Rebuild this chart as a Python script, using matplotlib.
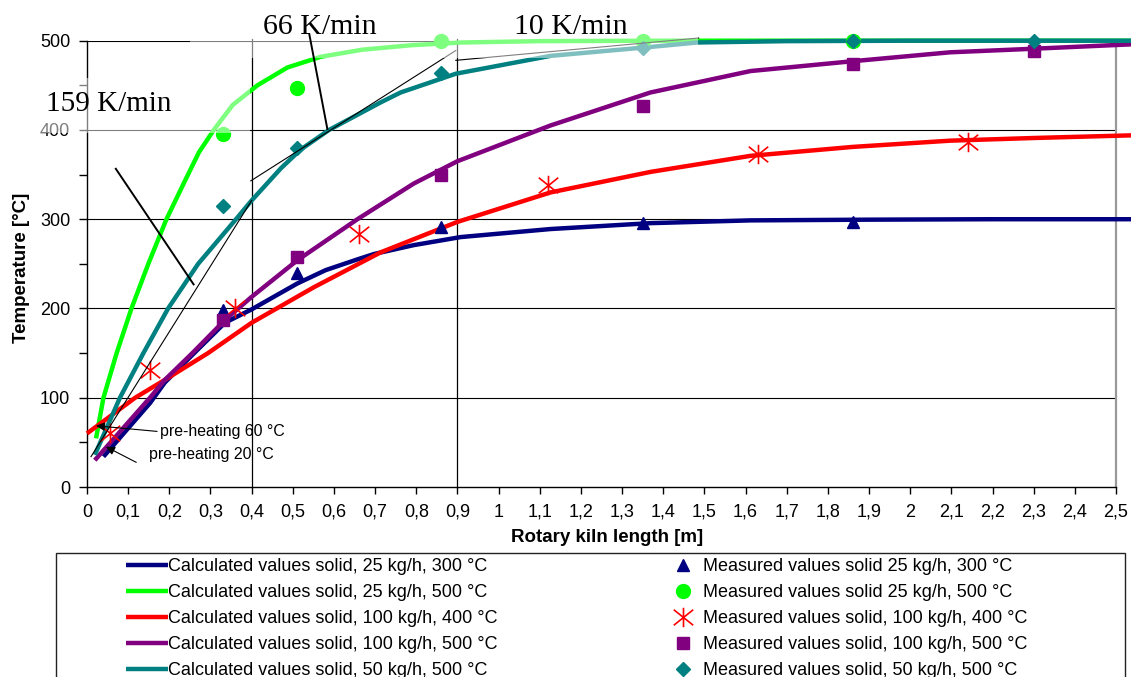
import matplotlib
matplotlib.use('Agg')
import matplotlib.pyplot as plt
from matplotlib.ticker import MultipleLocator, FuncFormatter
from matplotlib.patches import Rectangle
from matplotlib.path import Path

plt.rcParams['font.family'] = ['Liberation Sans', 'DejaVu Sans']

# calculated curves
calc_300_25_x = [0.04, 0.153, 0.189, 0.256, 0.335, 0.4, 0.511, 0.58, 0.657, 0.697, 0.794, 0.908,
                 1.126, 1.369, 1.612, 1.9, 2.2, 2.54]
calc_300_25_T = [34, 94, 117, 148, 184, 199, 228, 243, 255, 261, 271, 280, 289, 295.6, 298.7,
                 299.5, 300, 300]

calc_500_25_x = [0.022, 0.040, 0.072, 0.108, 0.149, 0.193, 0.238, 0.272, 0.308, 0.354, 0.414, 0.487,
                 0.568, 0.67, 0.79, 0.91, 1.1, 1.4, 1.8, 2.54]
calc_500_25_T = [54.5, 100, 150, 200, 250, 300, 343, 375, 400, 428, 450, 470, 482, 490, 495, 498,
                 499.5, 500, 500, 500]

calc_400_100_x = [0.0, 0.117, 0.189, 0.294, 0.4, 0.552, 0.714, 0.9, 1.126, 1.369, 1.612, 1.86,
                  2.097, 2.3, 2.54]
calc_400_100_T = [60, 100, 120, 150, 184, 224, 263, 297, 330, 353, 371, 381, 388, 391, 394]

calc_500_100_x = [0.019, 0.153, 0.189, 0.256, 0.335, 0.40, 0.511, 0.657, 0.794, 0.9, 1.126, 1.369,
                  1.612, 1.86, 2.097, 2.3, 2.54]
calc_500_100_T = [30, 100, 120, 150, 187, 213, 254, 300, 340, 365, 405, 442, 466, 477, 487, 491, 496]

calc_500_50_x = [0.019, 0.080, 0.137, 0.197, 0.270, 0.362, 0.40, 0.471, 0.519, 0.588, 0.714, 0.762,
                 0.896, 1.126, 1.369, 1.483, 1.7, 2.0, 2.54]
calc_500_50_T = [36, 100, 150, 200, 250, 300, 321, 357, 378, 400, 431, 442, 463, 483, 493, 498,
                 499.5, 500, 500]

# measured points
meas_300_25_x = [0.33, 0.51, 0.86, 1.35, 1.86]
meas_300_25_T = [198, 240, 291, 296, 297]
meas_500_25_x = [0.33, 0.51, 0.86, 1.35, 1.86]
meas_500_25_T = [396, 447, 500, 500, 500]
meas_400_100_x = [0.056, 0.153, 0.359, 0.66, 1.12, 1.63, 2.14]
meas_400_100_T = [60, 131, 200, 284, 338, 373, 387]
meas_500_100_x = [0.33, 0.51, 0.86, 1.35, 1.86, 2.3]
meas_500_100_T = [187, 258, 350, 427, 474, 488]
meas_500_50_x = [0.33, 0.51, 0.86, 1.35, 1.86, 2.3]
meas_500_50_T = [315, 380, 464, 492, 500, 500]

calc_labels = ['Calculated values solid, 25 kg/h, 300 °C',
               'Calculated values solid, 25 kg/h, 500 °C',
               'Calculated values solid, 100 kg/h, 400 °C',
               'Calculated values solid, 100 kg/h, 500 °C',
               'Calculated values solid, 50 kg/h, 500 °C']
meas_labels = ['Measured values solid 25 kg/h, 300 °C',
               'Measured values solid 25 kg/h, 500 °C',
               'Measured values solid, 100 kg/h, 400 °C',
               'Measured values solid, 100 kg/h, 500 °C',
               'Measured values solid, 50 kg/h, 500 °C']
colors = ['#000080', '#00FF00', '#FF0000', '#800080', '#008080']

# heating-rate annotations: tangents and pointer lines (x [m], T [°C])
tangent_159 = ([0.0097, 0.4], [34, 321])
tangent_66 = ([0.398, 0.896], [343, 489])
tangent_10 = ([0.896, 1.486], [478, 503])
pointer_159 = ([0.070, 0.259], [356.5, 227])
pointer_66 = ([0.540, 0.584], [507.5, 401])
section_x = [0.4, 0.9]

W, H = 1131, 677
fig = plt.figure(figsize=(W / 100, H / 100), dpi=100)
ax = fig.add_axes([87 / W, 1 - 487 / H, (1116 - 87) / W, (487 - 40.7) / H])
ax.set_xlim(0, 2.5)
ax.set_ylim(0, 500)

for yv in range(100, 501, 100):
    ax.axhline(yv, color='k', lw=0.8, zorder=1)
for xv in section_x:
    ax.plot([xv, xv], [0, 502], color='k', lw=0.9, zorder=1, clip_on=False)

star = Path([(-1, -0.8), (1, 0.8), (-1, 0.8), (1, -0.8), (0, -1), (0, 1)],
            [Path.MOVETO, Path.LINETO, Path.MOVETO, Path.LINETO, Path.MOVETO, Path.LINETO])

calc = [(calc_300_25_x, calc_300_25_T), (calc_500_25_x, calc_500_25_T),
        (calc_400_100_x, calc_400_100_T), (calc_500_100_x, calc_500_100_T),
        (calc_500_50_x, calc_500_50_T)]
meas = [(meas_300_25_x, meas_300_25_T, '^', 9), (meas_500_25_x, meas_500_25_T, 'o', 10),
        (meas_400_100_x, meas_400_100_T, star, 14), (meas_500_100_x, meas_500_100_T, 's', 8),
        (meas_500_50_x, meas_500_50_T, 'D', 7.5)]

calc_handles = []
for (xs, ts), c, lab in zip(calc, colors, calc_labels):
    ln, = ax.plot(xs, ts, color=c, lw=3.2, label=lab, zorder=3, clip_on=False,
                  solid_capstyle='butt', solid_joinstyle='round')
    calc_handles.append(ln)

meas_handles = []
for (xs, ts, m, ms), c, lab in zip(meas, colors, meas_labels):
    if m is star:
        mk, = ax.plot(xs, ts, ls='none', marker=m, ms=ms, mec=c, mfc='none', mew=1.2,
                      label=lab, zorder=4, clip_on=False)
    else:
        mk, = ax.plot(xs, ts, ls='none', marker=m, ms=ms, color=c, mec=c,
                      label=lab, zorder=4, clip_on=False)
    meas_handles.append(mk)

for xs, ts in (tangent_159, tangent_66, tangent_10):
    ax.plot(xs, ts, color='k', lw=0.8, zorder=5, clip_on=False)

# faded areas of the original scan
for (x0, y0, x1, y1) in [(190, 31, 698, 58), (38, 78, 250, 133)]:
    ax.add_patch(Rectangle((x0 / W, 1 - y1 / H), (x1 - x0) / W, (y1 - y0) / H,
                           transform=fig.transFigure, fc='white', ec='none', alpha=0.5,
                           zorder=6, clip_on=False))

for xs, ts in (pointer_159, pointer_66):
    ax.plot(xs, ts, color='k', lw=1.4, zorder=7, clip_on=False)

ax.text(-0.0995, 421, '159 K/min', family='Liberation Serif', fontsize=21, ha='left',
        va='baseline', zorder=8)
ax.text(0.4264, 507.5, '66 K/min', family='Liberation Serif', fontsize=21.5, ha='left',
        va='baseline', zorder=8)
ax.text(1.037, 507.5, '10 K/min', family='Liberation Serif', fontsize=21.5, ha='left',
        va='baseline', zorder=8)

ax.annotate('pre-heating 60 °C', xy=(0.0218, 68.6), xytext=(0.177, 62), fontsize=11.4,
            ha='left', va='center', zorder=8,
            arrowprops=dict(arrowstyle='-|>', color='k', lw=0.8, mutation_scale=13,
                            shrinkA=0, shrinkB=0, relpos=(0, 0.5)))
ax.annotate('pre-heating 20 °C', xy=(0.0461, 45.1), xytext=(0.150, 36), fontsize=11.4,
            ha='left', va='center', zorder=8,
            arrowprops=dict(arrowstyle='-|>', color='k', lw=0.8, mutation_scale=13,
                            shrinkA=0, shrinkB=0, relpos=(-0.1, 0.0)))

ax.xaxis.set_major_locator(MultipleLocator(0.1))
ax.xaxis.set_major_formatter(FuncFormatter(lambda v, p: ('%g' % round(v, 1)).replace('.', ',')))
ax.yaxis.set_major_locator(MultipleLocator(100))
ax.yaxis.set_minor_locator(MultipleLocator(50))
ax.tick_params(axis='x', direction='out', length=5, width=1, labelsize=13, pad=7)
ax.tick_params(axis='y', which='both', direction='out', length=6, width=1, labelsize=13, pad=6)

ax.spines['top'].set_visible(False)
ax.spines['right'].set_color('#999999')
ax.spines['right'].set_linewidth(1.6)
for s in ('left', 'bottom'):
    ax.spines[s].set_linewidth(1)

ax.set_xlabel('Rotary kiln length [m]', fontsize=13.5, fontweight='bold')
ax.xaxis.set_label_coords((607 - 87) / 1029, (487 - 538) / 446.3)
ax.xaxis.label.set_va('center')
ax.set_ylabel('Temperature [°C]', fontsize=13.5, fontweight='bold')
ax.yaxis.set_label_coords((22 - 87) / 1029, (487 - 268) / 446.3)
ax.yaxis.label.set_va('center')

fig.legend(handles=calc_handles, loc='upper left', bbox_to_anchor=(126 / W, 1 - 558 / H),
           frameon=False, fontsize=13, handlelength=2.3, handletextpad=0.05,
           labelspacing=0.5, borderpad=0, borderaxespad=0)
fig.legend(handles=meas_handles, loc='upper left', bbox_to_anchor=(674 / W, 1 - 558 / H),
           frameon=False, fontsize=13, handlelength=1.0, handletextpad=0.6,
           labelspacing=0.5, borderpad=0, borderaxespad=0)
fig.patches.append(Rectangle((56 / W, -0.05), (1125 - 56) / W, 0.05 + 1 - 553 / H,
                             transform=fig.transFigure, fill=False, ec='#222222', lw=1))

fig.savefig('out.png', dpi=100)
